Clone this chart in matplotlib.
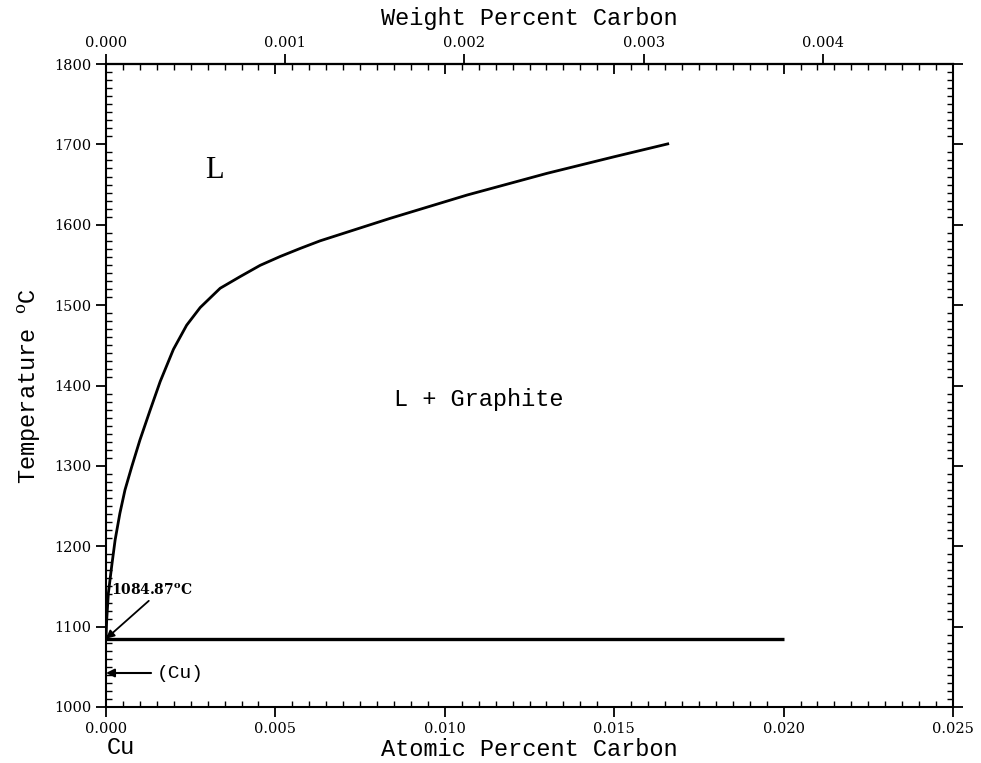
import numpy as np
import matplotlib.pyplot as plt
from matplotlib.ticker import MultipleLocator, FixedLocator

plt.rcParams['mathtext.fontset'] = 'dejavuserif'

# liquidus of Cu-C (atomic percent carbon, temperature in C)
liq_at = [0.0, 0.00002, 0.00007, 0.00017, 0.00027, 0.00041, 0.00056, 0.00076,
          0.00100, 0.00130, 0.00160, 0.00199, 0.00238, 0.00278, 0.00337,
          0.00396, 0.00455, 0.00514, 0.00573, 0.00632, 0.00839, 0.01066,
          0.01302, 0.01499, 0.01662]
liq_T = [1084.87, 1108, 1141.5, 1176, 1208, 1241, 1270, 1299, 1332, 1369,
         1405, 1445, 1475, 1497, 1521, 1535.5, 1549.5, 1560.5, 1570.5, 1580,
         1608, 1637, 1664, 1684.5, 1701]

# horizontal at the melting point of Cu
melt_T = 1084.87
horiz_at = [0.0, 0.0200]

# conversion at% -> wt% for dilute C in Cu
M_CU, M_C = 63.546, 12.011
RATIO = M_CU / M_C

wt_ticks = [0.000, 0.001, 0.002, 0.003, 0.004]
wt_labels = ['0.000', '0.001', '0.002', '0.003', '0.004']
at_ticks = [0.000, 0.005, 0.010, 0.015, 0.020, 0.025]
at_labels = ['0.000', '0.005', '0.010', '0.015', '0.020', '0.025']
T_ticks = [1000, 1100, 1200, 1300, 1400, 1500, 1600, 1700, 1800]

mono = 'Liberation Mono'
serif = 'DejaVu Serif'

fig = plt.figure(figsize=(9.81, 7.63), dpi=100)
ax = fig.add_axes([106 / 981, 1 - 707 / 763, (953 - 106) / 981, (707 - 64) / 763])

ax.plot(liq_at, liq_T, color='black', lw=2.0, solid_capstyle='butt',
        solid_joinstyle='round')
ax.plot(horiz_at, [melt_T, melt_T], color='black', lw=2.4, solid_capstyle='butt')

ax.set_xlim(0, 0.025)
ax.set_ylim(1000, 1800)

for s in ax.spines.values():
    s.set_linewidth(1.5)

# bottom and left/right ticks
ax.xaxis.set_major_locator(FixedLocator(at_ticks))
ax.set_xticklabels(at_labels)
ax.xaxis.set_minor_locator(MultipleLocator(0.0005))
ax.yaxis.set_major_locator(FixedLocator(T_ticks))
ax.yaxis.set_minor_locator(MultipleLocator(10))
ax.tick_params(which='major', direction='out', length=7, width=1.3,
               top=False, right=True, labelsize=10.5)
ax.tick_params(which='minor', direction='in', length=4, width=1.0,
               top=False, right=True)
for lab in ax.get_xticklabels() + ax.get_yticklabels():
    lab.set_family(serif)

# top: atomic ticks pointing in
top_at = ax.secondary_xaxis('top')
top_at.xaxis.set_major_locator(FixedLocator(at_ticks))
top_at.xaxis.set_minor_locator(MultipleLocator(0.0005))
top_at.tick_params(which='major', direction='in', length=7, width=1.3, labeltop=False)
top_at.tick_params(which='minor', direction='in', length=4, width=1.0)
top_at.spines['top'].set_linewidth(1.5)

# top: weight percent scale
top_wt = ax.secondary_xaxis('top', functions=(lambda x: x / RATIO, lambda w: w * RATIO))
top_wt.xaxis.set_major_locator(FixedLocator(wt_ticks))
top_wt.set_xticklabels(wt_labels, family=serif, fontsize=10.5)
top_wt.tick_params(which='major', direction='out', length=7, width=1.3, pad=3)
top_wt.tick_params(which='minor', length=0)
top_wt.spines['top'].set_linewidth(1.5)
top_wt.set_xlabel('Weight Percent Carbon', family=mono, fontsize=17, labelpad=8)

ax.set_xlabel('Atomic Percent Carbon', family=mono, fontsize=17, labelpad=2)
ax.set_ylabel('Temperature $^{\\mathrm{o}}$C', family=mono, fontsize=17, labelpad=8)

# region labels
ax.text(0.00319, 1668, 'L', family='Liberation Serif', fontsize=22,
        ha='center', va='center')
ax.text(0.0110, 1382, 'L + Graphite', family=mono, fontsize=17,
        ha='center', va='center')

# melting point annotation
ax.annotate('1084.87$^{\\mathbf{o}}$C', xy=(0.0, melt_T), xytext=(0.00015, 1145),
            family=serif, fontsize=10, fontweight='bold', ha='left', va='center',
            arrowprops=dict(arrowstyle='-|>', color='black', lw=1.3,
                            mutation_scale=12, shrinkA=0, shrinkB=0,
                            relpos=(0.5, 0.0)))
ax.annotate('', xy=(0.0, 1042.3), xytext=(0.00133, 1042.3),
            arrowprops=dict(arrowstyle='-|>', color='black', lw=1.5,
                            mutation_scale=12, shrinkA=0, shrinkB=0))
ax.text(0.0015, 1042.3, '(Cu)', family=mono, fontsize=14, ha='left', va='center')

# Cu end marker under the axis
fig.text(107 / 981, 1 - 748 / 763, 'Cu', family=mono, fontsize=17,
         ha='left', va='center')

fig.savefig('out.png', dpi=100)
